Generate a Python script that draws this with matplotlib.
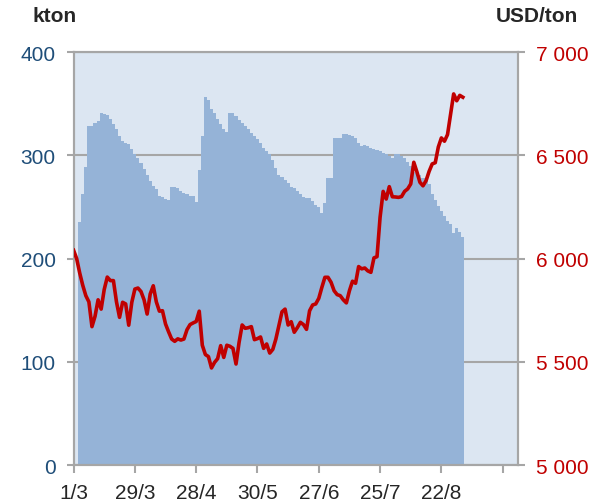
import matplotlib
matplotlib.use("Agg")
import matplotlib.pyplot as plt
import numpy as np
from matplotlib.ticker import FuncFormatter

plt.rcParams['font.family'] = ['Liberation Sans', 'DejaVu Sans']

# Stocks (kton), one bar per trading day, starting on day 2
stocks = [235.6, 262, 289, 328.5, 328, 331.7, 332.7, 341.4, 340.4, 338.8,
          334.9, 330, 325, 318.8, 313.9, 312.2, 310.6, 305.8, 300.9, 297.6,
          292.1, 286.3, 280.5, 275, 270, 267, 261, 259.4, 258, 257,
          269, 269.4, 268, 265, 263, 262, 261, 260.4, 254.6, 286,
          319, 356, 353.5, 344.6, 340.7, 335.5, 330, 325, 323, 340.7,
          341.4, 338, 334.3, 331.7, 328.5, 325, 322, 318.8, 315.5, 311.6,
          307.4, 304, 301, 295.5, 288, 280.5, 279, 276, 272.8, 269.6,
          268.3, 265.4, 262, 259.8, 258.8, 258.8, 255.5, 252.3, 250, 244,
          254, 278.3, 278.3, 316.5, 316.5, 317.2, 320.4, 320.4, 319.7, 318.8,
          316.5, 312.3, 309, 309.7, 308.7, 307.5, 306.5, 305.2, 304.2, 302.6,
          300.9, 299.7, 297.7, 301.6, 300.9, 299.3, 297, 293.8, 289.6, 284.1,
          283.2, 280.9, 277.6, 275, 271.8, 262.1, 256.3, 250.7, 245.9, 241,
          236, 233, 225, 230, 226, 221]

# Price (USD/ton), one point per trading day
price = [6040, 6000, 5930, 5870, 5820, 5790, 5670, 5720, 5800, 5755,
         5850, 5910, 5893, 5893, 5790, 5715, 5788, 5780, 5677, 5788,
         5852, 5857, 5840, 5800, 5731, 5828, 5868, 5790, 5745, 5747,
         5683, 5645, 5610, 5599, 5611, 5605, 5610, 5655, 5680, 5688,
         5695, 5745, 5580, 5535, 5525, 5470, 5497, 5515, 5578, 5521,
         5580, 5575, 5565, 5489, 5594, 5678, 5662, 5665, 5670, 5607,
         5612, 5620, 5565, 5586, 5542, 5560, 5610, 5675, 5742, 5755,
         5678, 5694, 5643, 5665, 5691, 5680, 5657, 5747, 5775, 5780,
         5807, 5860, 5909, 5909, 5885, 5844, 5825, 5820, 5800, 5785,
         5844, 5890, 5880, 5961, 5950, 5954, 5940, 5933, 6003, 6009,
         6200, 6325, 6288, 6348, 6299, 6298, 6296, 6300, 6325, 6337,
         6361, 6466, 6420, 6369, 6352, 6377, 6422, 6458, 6464, 6540,
         6584, 6568, 6600, 6700, 6797, 6764, 6790, 6781]

tick_pos = [0, 20, 40, 60, 80, 100, 120, 140]
tick_labels = ['1/3', '29/3', '28/4', '30/5', '27/6', '25/7', '22/8', '']

grey = '#a6a6a6'
fig = plt.figure(figsize=(6.08, 5.02), dpi=100)
ax = fig.add_axes([0.121, 0.0717, 0.731, 0.8227])
ax.set_facecolor('#dce6f2')

x_stock = np.arange(len(stocks)) + 2
ax.bar(x_stock, stocks, width=1.0, color='#95b3d7', linewidth=0, zorder=2)
ax.set_xlim(0, 145)
ax.set_ylim(0, 400)
ax.set_yticks([0, 100, 200, 300, 400])
ax.set_axisbelow(True)
ax.grid(axis='y', color=grey, linewidth=1.5, zorder=0)
ax.set_xticks(tick_pos)
ax.set_xticklabels(tick_labels)
ax.tick_params(axis='y', colors=grey, labelcolor='#1f4e79', labelsize=15,
               length=5, width=1.5, pad=8)
ax.tick_params(axis='x', colors=grey, labelcolor='#262626', labelsize=15,
               length=6, width=1.5, pad=7)
for s in ax.spines.values():
    s.set_color(grey)
    s.set_linewidth(1.5)

ax2 = ax.twinx()
ax2.plot(np.arange(len(price)), price, color='#c00000', linewidth=2.6,
         solid_joinstyle='round', zorder=3)
ax2.set_ylim(5000, 7000)
ax2.set_yticks([5000, 5500, 6000, 6500, 7000])
ax2.yaxis.set_major_formatter(FuncFormatter(lambda v, p: f"{int(v):,}".replace(',', ' ')))
ax2.tick_params(axis='y', colors=grey, labelcolor='#c00000', labelsize=15,
                length=5, width=1.5, pad=8)
for s in ax2.spines.values():
    s.set_color(grey)
    s.set_linewidth(1.5)

fig.text(55 / 608, 1 - 17 / 502, 'kton', ha='center', va='center',
         fontsize=15, fontweight='bold', color='#262626')
fig.text(537 / 608, 1 - 17 / 502, 'USD/ton', ha='center', va='center',
         fontsize=15, fontweight='bold', color='#262626')

fig.savefig('out.png', dpi=100)
